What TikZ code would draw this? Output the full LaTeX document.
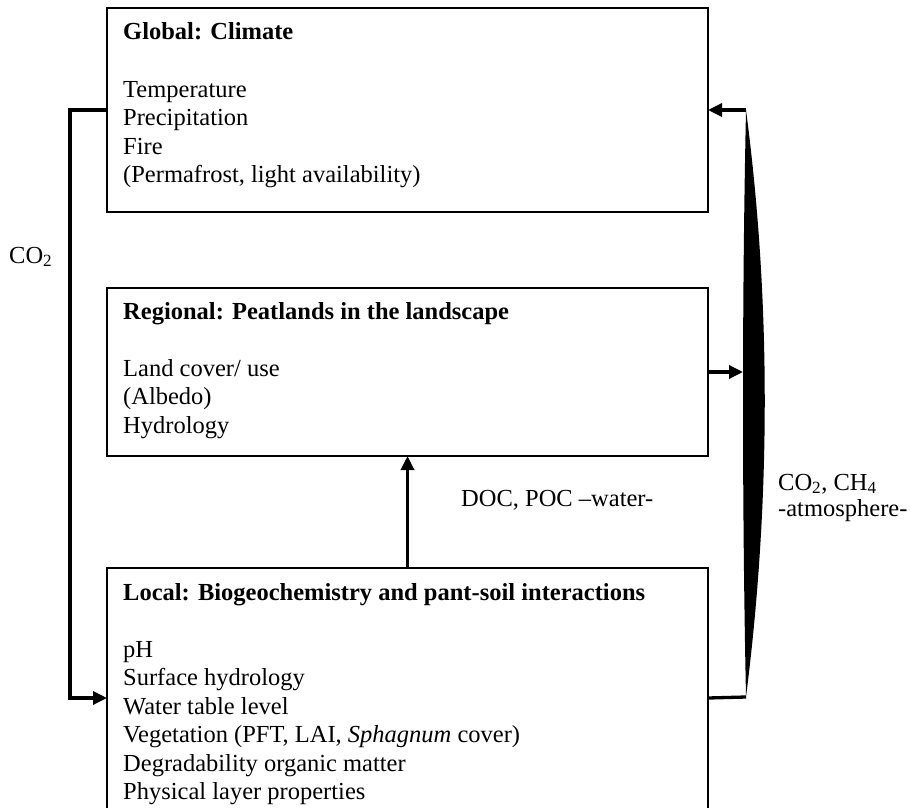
\documentclass[tikz,border=0pt]{standalone}
\usepackage{fontspec}
\setmainfont{Liberation Serif}
\usetikzlibrary{arrows.meta}
\begin{document}
\begin{tikzpicture}[x=1pt,y=-1pt,
  box/.style={draw, line width=1.3pt, minimum width=601pt, inner sep=0pt, outer sep=0pt, anchor=north west},
  txt/.style={anchor=base west, inner sep=0pt, font=\fontsize{24.5}{28.5}\selectfont},
  hdr/.style={anchor=base west, inner sep=0pt, font=\fontsize{24.5}{28.5}\selectfont\bfseries},
  conn/.style={line width=3.3pt},
  tip/.style={-{Triangle[length=14pt,width=13pt]}}]
\useasboundingbox (0,0) rectangle (910,808);
\clip (0,0) rectangle (910,808);
% boxes
\node[box, minimum height=204pt] (global) at (107,8) {};
\node[box, minimum height=168pt] (regional) at (107,288) {};
\node[box, minimum height=260pt] (local) at (107,568) {};
% global text
\node[hdr] (g0) at (123,40) {Global: Climate};
\node[txt] (g1) at (123,97) {Temperature};
\node[txt] (g2) at (123,125.5) {Precipitation};
\node[txt] (g3) at (123,154) {Fire};
\node[txt] (g4) at (123,182.5) {(Permafrost, light availability)};
% regional text
\node[hdr] (r0) at (123,319) {Regional: Peatlands in the landscape};
\node[txt] (r1) at (123,376) {Land cover/ use};
\node[txt] (r2) at (123,404.5) {(Albedo)};
\node[txt] (r3) at (123,433) {Hydrology};
% local text
\node[hdr] (l0) at (123,600) {Local: Biogeochemistry and pant-soil interactions};
\node[txt] (l1) at (123,657) {pH};
\node[txt] (l2) at (123,685.5) {Surface hydrology};
\node[txt] (l3) at (123,714) {Water table level};
\node[txt] (l4) at (123,742.5) {Vegetation (PFT, LAI, \textit{Sphagnum} cover)};
\node[txt] (l5) at (123,771) {Degradability organic matter};
\node[txt] (l6) at (123,799.5) {Physical layer properties};
% labels
\node[txt] (co2) at (9,263) {CO\textsubscript{2}};
\node[txt] (doc) at (461,506) {DOC, POC –water-};
\node[txt] (atm1) at (778,490) {CO\textsubscript{2}, CH\textsubscript{4}};
\node[txt] (atm2) at (778,516) {-atmosphere-};
% connectors
\draw[conn, tip] (global.west) -- ++(-37,0) |- (local.west);
\draw[conn, tip] (local.north) -- (regional.south);
\coordinate (ltop) at (746,110);
\coordinate (lbot) at (746,697);
\coordinate (lmid) at (743,372);
\draw[conn] (local.east) -- (lbot);
\fill (lbot) .. controls (771,500) and (771,300) .. (ltop) .. controls (742,300) and (742,500) .. (lbot) -- cycle;
\draw[conn, tip] (ltop) -- (global.east);
\draw[conn, tip] (regional.east) -- (lmid);
\end{tikzpicture}
\end{document}
